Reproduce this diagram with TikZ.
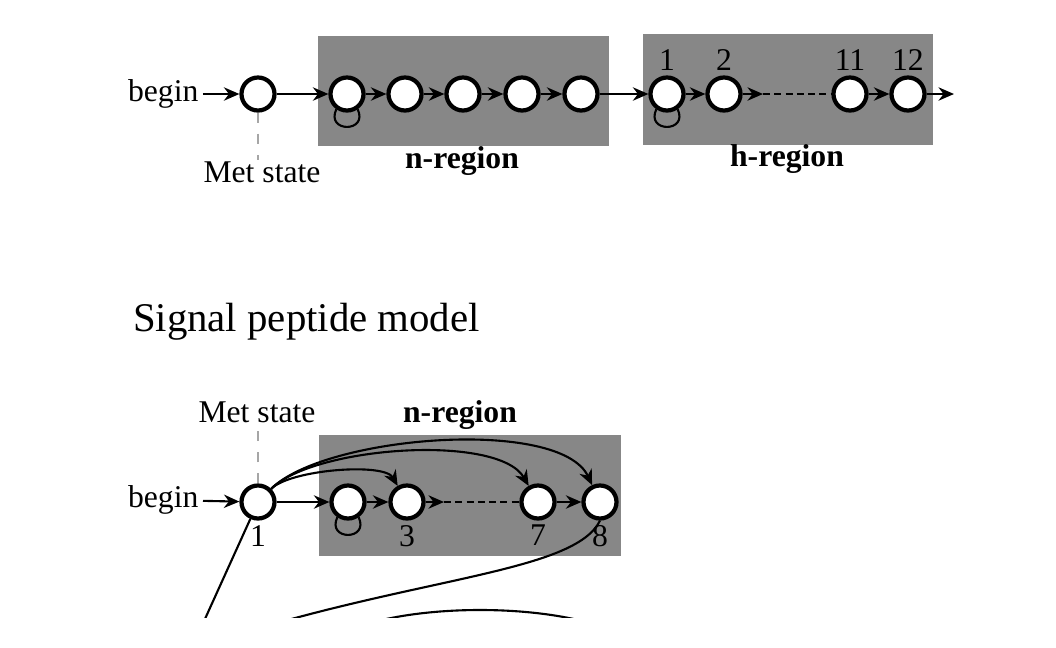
\documentclass[tikz,border=0pt]{standalone}
\usepackage{fontspec}
\setmainfont{Liberation Serif}
\usetikzlibrary{arrows.meta, positioning, calc}

\begin{document}
\begin{tikzpicture}[x=0.01cm, y=0.01cm, >={Stealth[length=4.4pt, width=3.8pt]}, line width=0.6pt,
    state/.style={circle, draw, fill=white, line width=1.2pt, minimum size=0.33cm, inner sep=0pt},
    regionbox/.style={fill=black!47},
    lbl/.style={font=\fontsize{9}{10}\selectfont, inner sep=1pt},
    boldlbl/.style={font=\fontsize{9}{10}\selectfont\bfseries},
    dots/.style={dash pattern=on 2pt off 1.2pt},
    mettick/.style={black!35, dashed, line width=0.5pt}]
  \useasboundingbox (0,0) rectangle (1056,647);

  % ---------- Signal anchor model (top) ----------
  \fill[regionbox] (318,611) rectangle (609,501);
  \fill[regionbox] (643,613) rectangle (933,502);

  \node[lbl, anchor=east] (abegin) at (203,553) {begin};
  \node[state] (amet) at (258,553) {};
  \node[state] (an1) at (347,553) {};
  \node[state] (an2) at (405,553) {};
  \node[state] (an3) at (463,553) {};
  \node[state] (an4) at (522,553) {};
  \node[state] (an5) at (581,553) {};
  \node[state, label={[lbl]above:1}] (ah1) at (667,553) {};
  \node[state, label={[lbl]above:2}] (ah2) at (724,553) {};
  \node[state, label={[lbl]above:11}] (ah11) at (850,553) {};
  \node[state, label={[lbl]above:12}] (ah12) at (908,553) {};
  \coordinate (adot) at (763,553);
  \coordinate (aout) at (954,553);
  \coordinate (atick) at (258,487);

  \draw[->] (abegin) -- (amet);
  \draw[->] (amet) -- (an1);
  \draw[->] (an1) -- (an2);
  \draw[->] (an2) -- (an3);
  \draw[->] (an3) -- (an4);
  \draw[->] (an4) -- (an5);
  \draw[->] (an5) -- (ah1);
  \draw[->] (ah1) -- (ah2);
  \draw[->] (ah2) -- (adot);
  \draw[dots] (adot) -- (ah11);
  \draw[->] (ah11) -- (ah12);
  \draw[->] (ah12) -- (aout);
  \draw (an1.235) .. controls +(245:26) and +(295:26) .. (an1.305);
  \draw (ah1.235) .. controls +(245:26) and +(295:26) .. (ah1.305);
  \draw[mettick] (amet) -- (atick);

  \node[lbl, anchor=base] (ametlbl) at (262,465) {Met state};
  \node[boldlbl, anchor=base] (anlbl) at (462,479) {n-region};
  \node[boldlbl, anchor=base] (ahlbl) at (787,481) {h-region};

  % ---------- Signal peptide model (bottom) ----------
  \node[font=\fontsize{11.6}{14}\selectfont, anchor=base west, inner sep=0pt] (stitle) at (132,316) {Signal peptide model};

  \fill[regionbox] (319,212) rectangle (621,91);

  \node[lbl, anchor=east] (sbegin) at (203,147) {begin};
  \node[state, label={[lbl]below:1}] (smet) at (258,145) {};
  \node[state] (s1) at (348,145) {};
  \node[state, label={[lbl]below:3}] (s3) at (407,145) {};
  \node[state, label={[lbl]below:7}] (s7) at (538,145) {};
  \node[state, label={[lbl]below:8}] (s8) at (600,145) {};
  \coordinate (sdot) at (444,145);
  \coordinate (stick) at (258,219);
  \coordinate (slowa) at (190,-5);

  \draw[->] (sbegin) -- (smet);
  \draw[->] (smet) -- (s1);
  \draw[->] (s1) -- (s3);
  \draw[->] (s3) -- (sdot);
  \draw[dots] (sdot) -- (s7);
  \draw[->] (s7) -- (s8);
  \draw (s1.235) .. controls +(245:26) and +(295:26) .. (s1.305);
  \draw[mettick] (smet) -- (stick);

  % jumps from the Met state
  \draw[->] (smet) to[out=45, in=120, looseness=0.55] (s3);
  \draw[->] (smet) to[out=45, in=120, looseness=0.6] (s7);
  \draw[->] (smet) to[out=45, in=115, looseness=0.6] (s8);

  \node[lbl, anchor=base] (smetlbl) at (257,225) {Met state};
  \node[boldlbl, anchor=base] (snlbl) at (460,225) {n-region};

  % lines leaving the page
  \begin{scope}
    \clip (0,30) rectangle (1056,647);
    \draw (smet) -- (slowa);
    \draw (s8.south) .. controls (575,75) and (420,70) .. (230,10);
    \draw (330,7) .. controls (390,47) and (570,47) .. (630,7);
  \end{scope}
\end{tikzpicture}
\end{document}
